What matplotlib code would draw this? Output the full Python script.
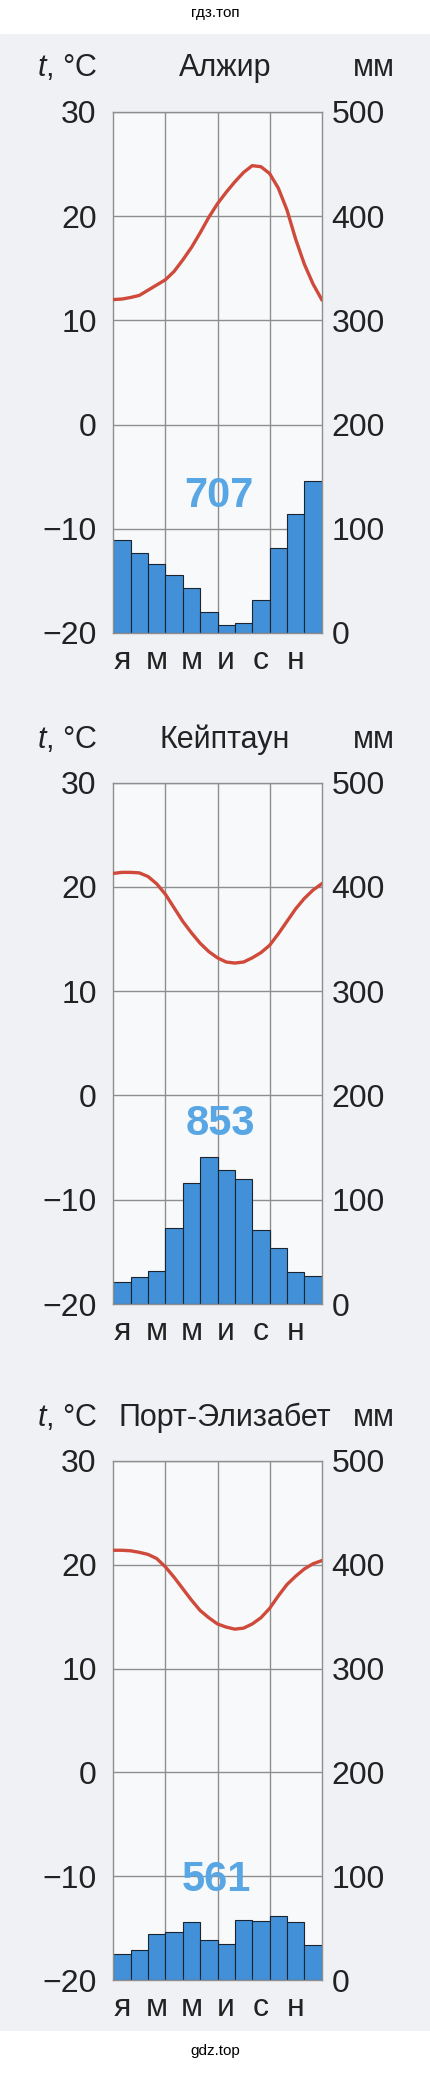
import numpy as np
import matplotlib
matplotlib.use('Agg')
import matplotlib.pyplot as plt
import matplotlib.transforms as mtransforms
from matplotlib.patches import Rectangle

plt.rcParams['font.family'] = ['Liberation Sans', 'DejaVu Sans']
plt.rcParams['mathtext.fontset'] = 'custom'
plt.rcParams['mathtext.it'] = 'Liberation Sans:italic'
plt.rcParams['mathtext.rm'] = 'Liberation Sans'

# data
cities = ['Алжир', 'Кейптаун', 'Порт-Элизабет']
annual_mm = [707, 853, 561]
month_labels = ['я', 'м', 'м', 'и', 'с', 'н']

precip_algiers = [89, 77, 66, 56, 43, 20, 8, 10, 32, 82, 114, 146]
precip_capetown = [21, 26, 32, 73, 116, 141, 129, 120, 71, 54, 31, 27]
precip_pe = [25, 29, 44, 46, 56, 39, 35, 58, 57, 62, 56, 34]

# temperature curve sampled every half month (0 = start of Jan, 12 = end of Dec)
curve_x = np.arange(0, 12.5, 0.5)
temp_algiers = [12.0, 12.05, 12.2, 12.4, 12.9, 13.4, 13.9, 14.7, 15.8, 17.0, 18.4, 19.9, 21.2,
                22.3, 23.3, 24.2, 24.85, 24.75, 24.1, 22.7, 20.6, 17.8, 15.4, 13.5, 12.0]
temp_capetown = [21.3, 21.4, 21.4, 21.35, 21.0, 20.3, 19.3, 18.0, 16.7, 15.6, 14.6, 13.8, 13.2,
                 12.8, 12.7, 12.8, 13.2, 13.7, 14.4, 15.5, 16.7, 17.9, 18.9, 19.7, 20.3]
temp_pe = [21.4, 21.4, 21.35, 21.2, 21.0, 20.6, 19.8, 18.8, 17.7, 16.6, 15.6, 14.9, 14.3,
           14.0, 13.8, 13.9, 14.3, 14.9, 15.8, 17.0, 18.1, 18.9, 19.6, 20.1, 20.4]

precips = [precip_algiers, precip_capetown, precip_pe]
temps = [temp_algiers, temp_capetown, temp_pe]

W, H = 430, 2077
def fx(px):
    return px / W
def fy(py):
    return 1 - py / H

# pixel layout of the three panels: (box top, box bottom, title y), number position
boxes = [(112, 633, 68), (782.7, 1304, 740), (1461, 1980, 1418)]
num_pos = [(0.507, 0.262), (0.512, 0.345), (0.493, 0.193)]
box_left, box_right = 113.3, 321.7

bar_color = '#4190d8'
line_color = '#cf4a3a'
grid_color = '#8e8e8e'
num_color = '#58a6e4'
text_color = '#222222'

fig = plt.figure(figsize=(4.30, 20.77), dpi=100, facecolor='#eff1f5')
fig.patches.append(Rectangle((0, fy(33)), 1, 33 / H, transform=fig.transFigure,
                             color='white', zorder=0))
fig.patches.append(Rectangle((0, 0), 1, (H - 2031) / H, transform=fig.transFigure,
                             color='white', zorder=0))

for i in range(3):
    top, bottom, ty = boxes[i]
    box_h = bottom - top
    ax = fig.add_axes([fx(box_left), fy(bottom), (box_right - box_left) / W, box_h / H])
    ax.set_facecolor('#f8f9fb')
    ax.bar(np.arange(12) + 0.5, precips[i], width=1, color=bar_color,
           edgecolor='#1c2430', linewidth=0.8, zorder=2)
    ax.set_xlim(0, 12)
    ax.set_ylim(0, 500)
    ax.set_xticks([3, 6, 9])
    ax.set_yticks(range(0, 501, 100))
    ax.tick_params(axis='x', length=0, labelbottom=False)
    ax.grid(True, color=grid_color, linewidth=1.0)
    ax.set_axisbelow(True)
    for s in ax.spines.values():
        s.set_color(grid_color)
        s.set_linewidth(1.0)

    trans = mtransforms.blended_transform_factory(ax.transData, ax.transAxes)
    for k, lab in enumerate(month_labels):
        ax.text(2 * k + 0.5, -36 / box_h, lab, transform=trans, ha='center',
                va='baseline', size=23, color=text_color)

    ax.text(num_pos[i][0], num_pos[i][1], str(annual_mm[i]), transform=ax.transAxes,
            ha='center', va='center', size=30, weight='bold', color=num_color, zorder=5)

    ax2 = ax.twinx()
    ax2.plot(curve_x, temps[i], color=line_color, linewidth=2.4, solid_joinstyle='round')
    ax2.set_ylim(-20, 30)
    ax2.set_xlim(0, 12)
    ax2.set_yticks(range(-20, 31, 10))
    ax2.yaxis.tick_left()
    ax2.tick_params(axis='y', length=0, pad=12, labelsize=23, colors=text_color)
    for s in ax2.spines.values():
        s.set_visible(False)

    # twinx moved the mm ticks to the left, put them back on the right
    ax.yaxis.tick_right()
    ax.tick_params(axis='y', length=0, pad=7, labelsize=23, colors=text_color)

    fig.text(fx(36.7), fy(ty), r'$t$, °C', ha='left', va='center', size=22, color=text_color)
    fig.text(fx(225), fy(ty), cities[i], ha='center', va='center', size=22, color=text_color)
    fig.text(fx(395), fy(ty), 'мм', ha='right', va='center', size=22, color=text_color)

fig.text(0.5, fy(13), 'гдз.топ', ha='center', va='center', size=11)
fig.text(0.5, fy(2051), 'gdz.top', ha='center', va='center', size=11)

fig.savefig('out.png', dpi=100, facecolor=fig.get_facecolor())
